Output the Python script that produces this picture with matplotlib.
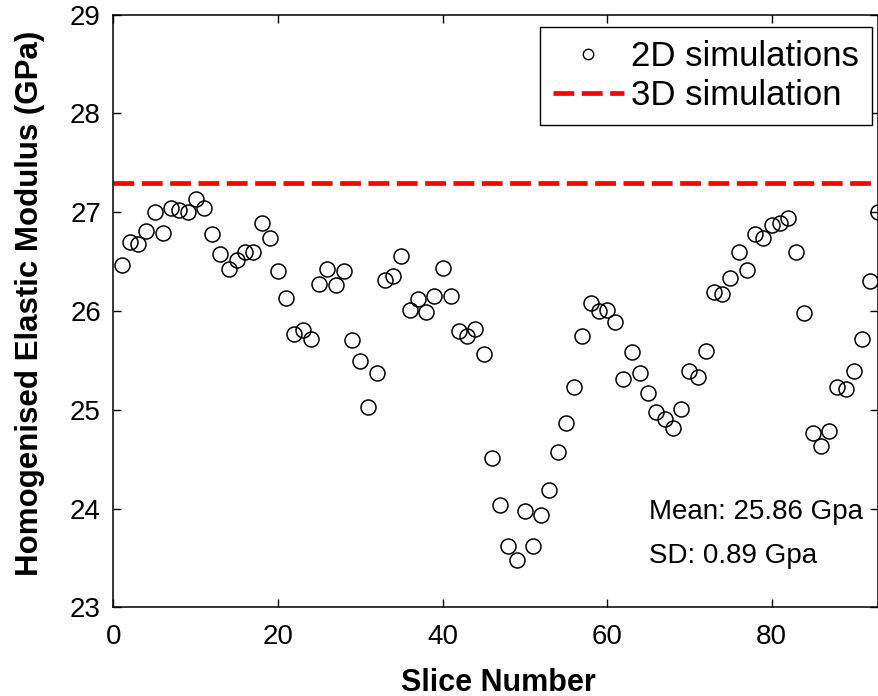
import matplotlib
matplotlib.use("Agg")
import matplotlib.pyplot as plt
from matplotlib.lines import Line2D

plt.rcParams['font.family'] = ['Liberation Sans', 'DejaVu Sans']

# modulus of each 2D slice (GPa)
slice_no = list(range(1, 94))
modulus_2d = [
    26.47, 26.70, 26.68, 26.81, 27.00, 26.79, 27.04, 27.02, 27.00, 27.13,
    27.04, 26.78, 26.58, 26.43, 26.52, 26.60, 26.60, 26.89, 26.74, 26.40,
    26.13, 25.77, 25.81, 25.72, 26.27, 26.43, 26.26, 26.40, 25.71, 25.49,
    25.03, 25.37, 26.31, 26.35, 26.56, 26.01, 26.12, 25.99, 26.15, 26.44,
    26.15, 25.80, 25.75, 25.82, 25.56, 24.51, 24.04, 23.62, 23.48, 23.98,
    23.62, 23.93, 24.19, 24.57, 24.87, 25.23, 25.75, 26.08, 26.00, 26.01,
    25.89, 25.31, 25.58, 25.37, 25.17, 24.98, 24.91, 24.82, 25.01, 25.39,
    25.33, 25.60, 26.19, 26.17, 26.33, 26.60, 26.42, 26.78, 26.74, 26.87,
    26.89, 26.94, 26.60, 25.98, 24.76, 24.63, 24.79, 25.23, 25.21, 25.39,
    25.72, 26.30, 27.00,
]
modulus_3d = 27.3
mean_txt = "Mean: 25.86 Gpa"
sd_txt = "SD: 0.89 Gpa"

fig = plt.figure(figsize=(8.79, 6.96), dpi=100)
ax = fig.add_axes([113.5 / 879, 88.7 / 696, 765 / 879, 592.6 / 696])

dash = (4.4, 1.6)
ax.plot(slice_no, modulus_2d, linestyle='none', marker='o', markersize=10.8,
        markerfacecolor='none', markeredgecolor='black', markeredgewidth=1.1)
ax.axhline(modulus_3d, color='red', linewidth=3.4, dashes=dash)

ax.set_xlim(0, 93)
ax.set_ylim(23, 29)
ax.set_xticks([0, 20, 40, 60, 80])
ax.set_yticks(range(23, 30))
ax.tick_params(direction='in', length=5.8, width=1.0, labelsize=20,
               top=True, right=True)
ax.tick_params(axis='x', pad=12)
ax.tick_params(axis='y', pad=9)
for s in ax.spines.values():
    s.set_linewidth(1.1)

ax.set_xlabel("Slice Number", fontsize=22, fontweight='bold')
ax.set_ylabel("Homogenised Elastic Modulus (GPa)", fontsize=22.5, fontweight='bold')
ax.xaxis.set_label_coords(0.503, -0.102)
ax.yaxis.set_label_coords(-0.0895, 0.513)

ax.text(65.15, 23.894, mean_txt, fontsize=20)
ax.text(65.15, 23.449, sd_txt, fontsize=20)

handles = [
    Line2D([], [], linestyle='none', marker='o', markersize=7.5,
           markerfacecolor='none', markeredgecolor='black', markeredgewidth=1.0),
    Line2D([], [], color='red', linewidth=3.4, dashes=dash),
]
leg = ax.legend(handles, ["2D simulations", "3D simulation"], fontsize=25,
                loc='upper right', bbox_to_anchor=(0.991, 0.9787),
                borderaxespad=0, fancybox=False, framealpha=1,
                edgecolor='black', handlelength=2.05, handletextpad=0.2,
                borderpad=0.37, labelspacing=0.17)
leg.get_frame().set_linewidth(1.0)

fig.savefig("out.png", dpi=100)
